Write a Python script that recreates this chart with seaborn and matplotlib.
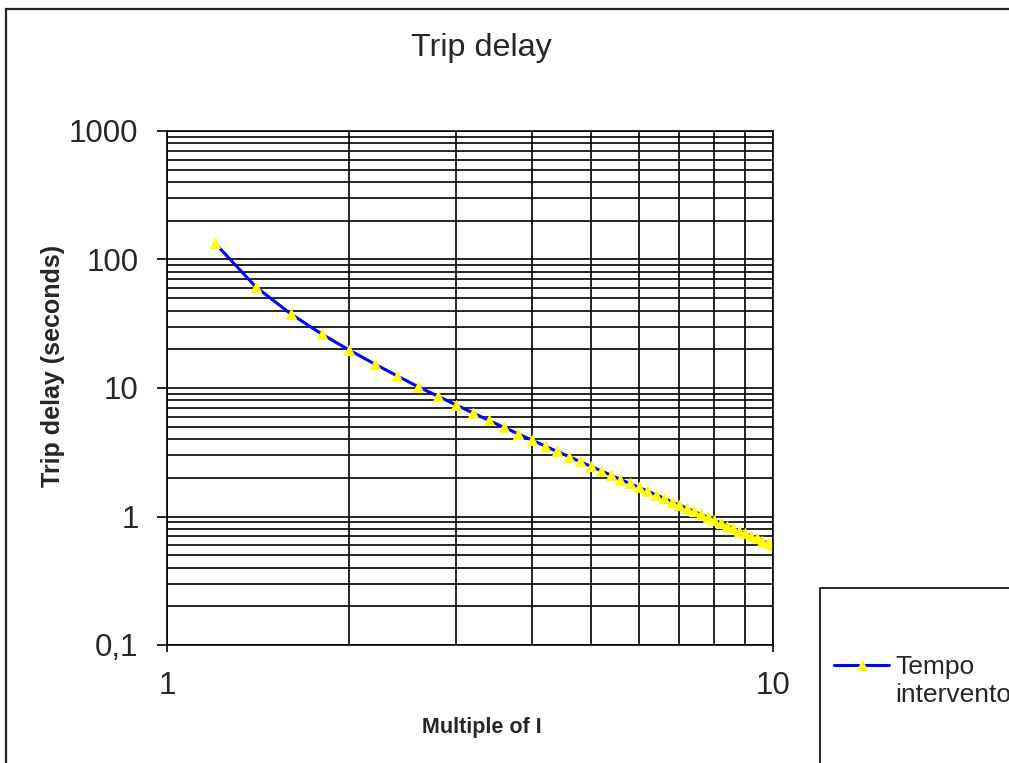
import matplotlib
matplotlib.use("Agg")
import matplotlib.pyplot as plt
import matplotlib.ticker as mticker
from matplotlib.patches import Rectangle
from matplotlib.legend_handler import HandlerLine2D
import seaborn as sns
import pandas as pd

# Data
multiple = [1.2, 1.4, 1.6, 1.8, 2.0, 2.2, 2.4, 2.6, 2.8, 3.0,
            3.2, 3.4, 3.6, 3.8, 4.0, 4.2, 4.4, 4.6, 4.8, 5.0,
            5.2, 5.4, 5.6, 5.8, 6.0, 6.2, 6.4, 6.6, 6.8, 7.0,
            7.2, 7.4, 7.6, 7.8, 8.0, 8.2, 8.4, 8.6, 8.8, 9.0,
            9.2, 9.4, 9.6, 9.8, 10.0]
trip_delay = [134.1, 61.5, 37.8, 26.3, 19.7, 15.4, 12.4, 10.2, 8.63, 7.38,
              6.39, 5.59, 4.93, 4.39, 3.93, 3.55, 3.21, 2.93, 2.68, 2.46,
              2.27, 2.10, 1.94, 1.81, 1.69, 1.58, 1.48, 1.39, 1.30, 1.23,
              1.16, 1.10, 1.04, 0.986, 0.937, 0.891, 0.848, 0.809, 0.772, 0.738,
              0.705, 0.675, 0.647, 0.621, 0.596]
series_name = "Tempo\nintervento"
y_ticks = [0.1, 1, 10, 100, 1000]
y_tick_labels = ["0,1", "1", "10", "100", "1000"]
x_ticks = [1, 10]
x_tick_labels = ["1", "10"]

sns.set_style("white")
plt.rcParams['font.family'] = ['Liberation Sans', 'DejaVu Sans']

W, H = 1009, 763
fig = plt.figure(figsize=(W / 100, H / 100), dpi=100)
ax = fig.add_axes([167 / W, 1 - 645 / H, (773 - 167) / W, (645 - 131) / H])

df = pd.DataFrame({"m": multiple, "t": trip_delay})
sns.lineplot(data=df, x="m", y="t", ax=ax, color="#0000ff", linewidth=2.2,
             marker="^", markersize=7, markerfacecolor="#ffff00",
             markeredgecolor="#ffff00", label=series_name, legend=False)

ax.set_xscale("log")
ax.set_yscale("log")
ax.set_xlim(1, 10)
ax.set_ylim(0.1, 1000)

ax.xaxis.set_major_locator(mticker.FixedLocator(x_ticks))
ax.xaxis.set_minor_locator(mticker.LogLocator(base=10, subs=range(2, 10)))
ax.xaxis.set_major_formatter(mticker.FixedFormatter(x_tick_labels))
ax.xaxis.set_minor_formatter(mticker.NullFormatter())
ax.yaxis.set_major_locator(mticker.FixedLocator(y_ticks))
ax.yaxis.set_minor_locator(mticker.LogLocator(base=10, subs=range(2, 10)))
ax.yaxis.set_major_formatter(mticker.FixedFormatter(y_tick_labels))
ax.yaxis.set_minor_formatter(mticker.NullFormatter())

grid_kw = dict(color="#000000", linewidth=1.2)
ax.grid(True, which="both", axis="both", **grid_kw)
ax.set_axisbelow(True)

ax.tick_params(axis="y", which="major", direction="out", length=7.5, width=1.2,
               color="black", labelsize=22.5, pad=13, left=True)
ax.tick_params(axis="x", which="major", direction="out", length=5, width=1.2,
               color="black", labelsize=22.5, pad=14, bottom=True)
ax.tick_params(which="minor", length=0)

for s in ax.spines.values():
    s.set_visible(True)
    s.set_color("black")
    s.set_linewidth(1.2)

ax.set_xlabel("Multiple of I", fontsize=15.5, fontweight="bold")
ax.set_ylabel("Trip delay (seconds)", fontsize=18, fontweight="bold")
ax.xaxis.set_label_coords((482 - 167) / 606, (645 - 728) / 514)
ax.xaxis.label.set_verticalalignment("center")
ax.yaxis.set_label_coords((53 - 167) / 606, (645 - 366) / 514)
ax.yaxis.label.set_verticalalignment("center")

fig.text(481 / W, 1 - 48 / H, "Trip delay", ha="center", va="center", fontsize=23.3)

# Chart area border (top & left visible)
fig.add_artist(Rectangle((6 / W, -0.5), 2.0, 1.5 - 9 / H, transform=fig.transFigure,
                         fill=False, edgecolor="#222222", linewidth=1.6))
# Legend box
fig.add_artist(Rectangle((820 / W, -0.5), 1.0, 0.5 + 1 - 588 / H, transform=fig.transFigure,
                         fill=False, edgecolor="#000000", linewidth=1.2))


class RaisedLine(HandlerLine2D):
    def create_artists(self, legend, orig_handle, xdescent, ydescent, width,
                       height, fontsize, trans):
        return super().create_artists(legend, orig_handle, xdescent,
                                      ydescent - 2 * 11.5, width, height,
                                      fontsize, trans)


h, l = ax.get_legend_handles_labels()
leg = fig.legend(h, l, loc="center left", bbox_to_anchor=(834 / W, 1 - 681 / H),
                 frameon=False, fontsize=19, handlelength=2.1, handletextpad=0.22,
                 borderpad=0, borderaxespad=0, labelspacing=0.2,
                 handler_map={h[0]: RaisedLine()})

fig.savefig("out.png", dpi=100, facecolor="white")
